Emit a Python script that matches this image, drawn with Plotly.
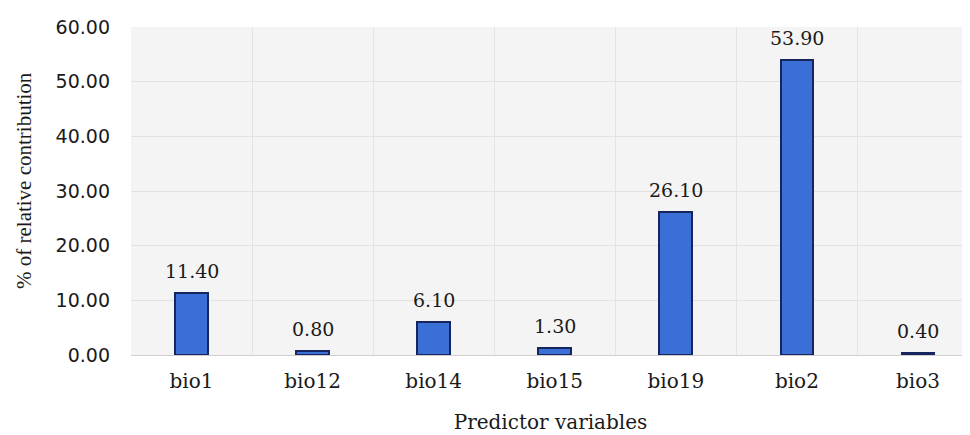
import plotly.graph_objects as go

categories = ["bio1", "bio12", "bio14", "bio15", "bio19", "bio2", "bio3"]
values = [11.40, 0.80, 6.10, 1.30, 26.10, 53.90, 0.40]
y_ticks = [0, 10, 20, 30, 40, 50, 60]

x_idx = list(range(len(categories)))

fig = go.Figure()
fig.add_trace(go.Bar(
    x=x_idx, y=values, width=0.27,
    marker=dict(color="#3a6fd6", line=dict(color="#17255e", width=2)),
    showlegend=False, hoverinfo="skip",
))

annotations = [
    dict(x=xi, y=v, xref="x", yref="y", text=f"{v:.2f}", showarrow=False,
         xanchor="center", yanchor="bottom", yshift=9,
         font=dict(family="DejaVu Serif", size=19, color="#1a1a1a"))
    for xi, v in zip(x_idx, values)
]
annotations.append(dict(
    x=0, y=0.5, xref="paper", yref="paper", xshift=-107, yshift=10,
    text="% of relative contribution", textangle=-90, showarrow=False,
    xanchor="center", yanchor="middle",
    font=dict(family="Liberation Serif", size=21, color="#1a1a1a"),
))

fig.update_layout(
    width=962, height=427,
    margin=dict(l=123, r=0, t=19, b=80),
    paper_bgcolor="white",
    plot_bgcolor="#f4f4f4",
    font=dict(family="DejaVu Serif", color="#1a1a1a"),
    bargap=0,
    annotations=annotations,
)
fig.update_xaxes(
    range=[-0.5, 6.43],
    tickmode="array", tickvals=x_idx, ticktext=categories,
    tickfont=dict(family="DejaVu Serif", size=20, color="#1a1a1a"),
    ticklabelstandoff=8,
    showgrid=False, zeroline=False,
    showline=True, linecolor="#cfcfcf", linewidth=1,
    minor=dict(tick0=0.5, dtick=1, showgrid=True, gridcolor="#e4e4e4", gridwidth=1),
    title=dict(text="Predictor variables", standoff=22,
               font=dict(family="DejaVu Serif", size=20, color="#1a1a1a")),
)
fig.update_yaxes(
    range=[0, 60],
    tickmode="array", tickvals=y_ticks, ticktext=[f"{t:.2f}" for t in y_ticks],
    tickfont=dict(family="DejaVu Sans", size=19, color="#1a1a1a"),
    ticklabelstandoff=20,
    showgrid=True, gridcolor="#e2e2e2", gridwidth=1,
    zeroline=False,
)

fig.write_html("out.html")
